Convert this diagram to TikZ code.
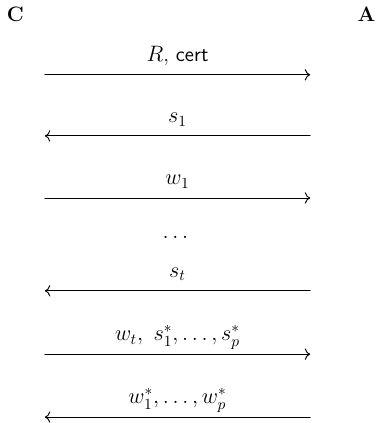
\documentclass[tikz,border=0pt]{standalone}
\usepackage{amsmath}
\usetikzlibrary{positioning,arrows.meta}
\DeclareMathSizes{13.5}{13.5}{10}{8}
\newcommand{\lblsize}{\fontsize{13.5}{16}\selectfont}
\tikzset{
  party/.style={anchor=base, inner sep=0pt, font=\lblsize\bfseries},
  msg/.style={-{To[scale=1.2]}, line width=0.6pt},
  lbl/.style={anchor=base, inner sep=0pt, yshift=0.3cm, font=\lblsize},
}
\begin{document}
\begin{tikzpicture}[line cap=round,line join=round]
  \useasboundingbox (0,0) rectangle (8.545,-9.614);
  \node[party] (C) at (0.35,-0.5) {C};
  \node[party] (A) at (8.33,-0.5) {A};
  \coordinate (c1) at (1.02,-1.70);
  \coordinate (a1) at (7.05,-1.70);
  \coordinate (c2) at (1.02,-3.09);
  \coordinate (a2) at (7.05,-3.09);
  \coordinate (c3) at (1.02,-4.50);
  \coordinate (a3) at (7.05,-4.50);
  \coordinate (c4) at (1.02,-6.61);
  \coordinate (a4) at (7.05,-6.61);
  \coordinate (c5) at (1.02,-8.05);
  \coordinate (a5) at (7.05,-8.05);
  \coordinate (c6) at (1.02,-9.48);
  \coordinate (a6) at (7.05,-9.48);
  \draw[msg] (c1) -- node[lbl] (m1) {$R$, \textsf{cert}} (a1);
  \draw[msg] (a2) -- node[lbl] (m2) {$s_1$} (c2);
  \draw[msg] (c3) -- node[lbl] (m3) {$w_1$} (a3);
  \node[anchor=base, inner sep=0pt, font=\lblsize] (dots) at (4.03,-5.41) {$\dots$};
  \draw[msg] (a4) -- node[lbl] (m4) {$s_t$} (c4);
  \draw[msg] (c5) -- node[lbl] (m5) {$w_t,\ s_1^*,\dots,s_p^*$} (a5);
  \draw[msg] (a6) -- node[lbl] (m6) {$w_1^*,\dots,w_p^*$} (c6);
\end{tikzpicture}
\end{document}
